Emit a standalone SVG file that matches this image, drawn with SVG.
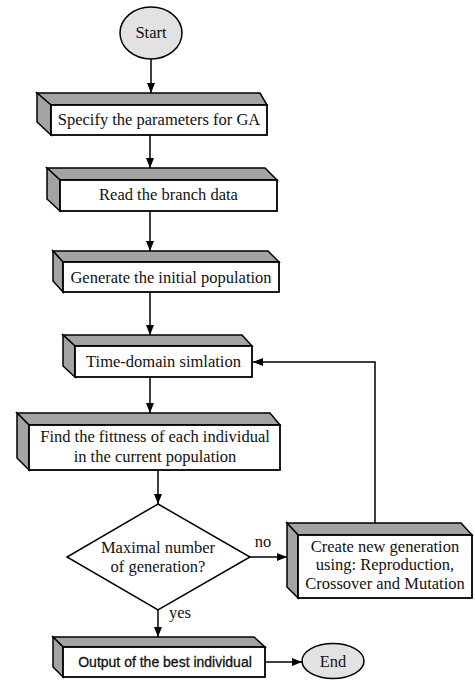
<svg xmlns="http://www.w3.org/2000/svg" width="475" height="680" viewBox="0 0 475 680">
<style>
.side{fill:#a3a3a3;stroke:#000;stroke-width:1.5;stroke-linejoin:miter}
.front{fill:#fff;stroke:#000;stroke-width:1.8}
.term{fill:#e2e2e2;stroke:#000;stroke-width:1.5}
.t{font-family:"Liberation Serif","Times New Roman",serif;font-size:16.5px;fill:#111;text-anchor:middle}
.s{font-family:"Liberation Sans",Arial,sans-serif;font-size:14px;fill:#111;text-anchor:middle;stroke:#111;stroke-width:0.3}
.c{fill:none;stroke:#000;stroke-width:1.5}
</style>
<defs>
<marker id="ah" viewBox="0 0 10 8" refX="10" refY="4" markerWidth="10" markerHeight="8" markerUnits="userSpaceOnUse" orient="auto">
<path d="M0,0 L10,4 L0,8 Z" fill="#000"/>
</marker>
</defs>
<g id="connectors">
<line class="c" x1="151" y1="59" x2="151" y2="93" marker-end="url(#ah)"/>
<line class="c" x1="150" y1="135" x2="150" y2="168" marker-end="url(#ah)"/>
<line class="c" x1="150" y1="211" x2="150" y2="251" marker-end="url(#ah)"/>
<line class="c" x1="150" y1="292" x2="150" y2="335" marker-end="url(#ah)"/>
<line class="c" x1="150" y1="377" x2="150" y2="413" marker-end="url(#ah)"/>
<line class="c" x1="158" y1="470" x2="158" y2="504" marker-end="url(#ah)"/>
<line class="c" x1="158" y1="610" x2="158" y2="637" marker-end="url(#ah)"/>
<line class="c" x1="250" y1="557" x2="287" y2="557" marker-end="url(#ah)"/>
<polyline class="c" points="375,523 375,362 253,362" marker-end="url(#ah)"/>
<line class="c" x1="265" y1="662" x2="302" y2="662" marker-end="url(#ah)"/>
<text x="263" y="547" class="t">no</text>
<text x="169" y="618" class="t" style="text-anchor:start">yes</text>
</g>
<g id="start">
<ellipse class="term" cx="151" cy="33" rx="31" ry="26"/>
<text x="151" y="38" class="t">Start</text>
</g>
<g id="specify">
<polygon class="side" points="37,93 260,93 267,105 51,105"/>
<polygon class="side" points="37,93 51,105 51,135 37,122"/>
<rect class="front" x="51" y="105" width="216" height="30"/>
<text x="159" y="125" class="t">Specify the parameters for GA</text>
</g>
<g id="read">
<polygon class="side" points="47,168 265,168 277,180 60,180"/>
<polygon class="side" points="47,168 60,180 60,211 47,199"/>
<rect class="front" x="60" y="180" width="217" height="31"/>
<text x="168.5" y="200" class="t">Read the branch data</text>
</g>
<g id="generate">
<polygon class="side" points="53,251 268,251 279,262 63,262"/>
<polygon class="side" points="53,251 63,262 63,292 53,281"/>
<rect class="front" x="63" y="262" width="216" height="30"/>
<text x="171" y="283" class="t">Generate the initial population</text>
</g>
<g id="timedomain">
<polygon class="side" points="63,335 242,335 252,346 75,346"/>
<polygon class="side" points="63,335 75,346 75,377 63,366"/>
<rect class="front" x="75" y="346" width="177" height="31"/>
<text x="163.5" y="367" class="t">Time-domain simlation</text>
</g>
<g id="fitness">
<polygon class="side" points="17,413 270,413 280,425 29,425"/>
<polygon class="side" points="17,413 29,425 29,470 17,458"/>
<rect class="front" x="29" y="425" width="251" height="45"/>
<text x="155" y="442" class="t">Find the fittness of each individual</text>
<text x="155" y="462" class="t">in the current population</text>
</g>
<g id="decision">
<polygon points="158,504 250,557 158,610 67,557" fill="#fff" stroke="#000" stroke-width="1.5"/>
<text x="158" y="553" class="t">Maximal number</text>
<text x="158" y="572" class="t">of generation?</text>
</g>
<g id="newgen">
<polygon class="side" points="287,523 461,523 472,535 298,535"/>
<polygon class="side" points="287,523 298,535 298,598 287,587"/>
<rect class="front" x="298" y="535" width="174" height="63"/>
<text x="385" y="552" class="t">Create new generation</text>
<text x="385" y="570" class="t">using: Reproduction,</text>
<text x="385" y="589" class="t">Crossover and Mutation</text>
</g>
<g id="output">
<polygon class="side" points="53,637 254,637 265,647 63,647"/>
<polygon class="side" points="53,637 63,647 63,677 53,667"/>
<rect class="front" x="63" y="647" width="202" height="30"/>
<text x="165" y="667" class="s">Output of the best individual</text>
</g>
<g id="end">
<ellipse class="term" cx="333" cy="661" rx="31" ry="17.5"/>
<text x="333" y="667" class="t">End</text>
</g>
</svg>
